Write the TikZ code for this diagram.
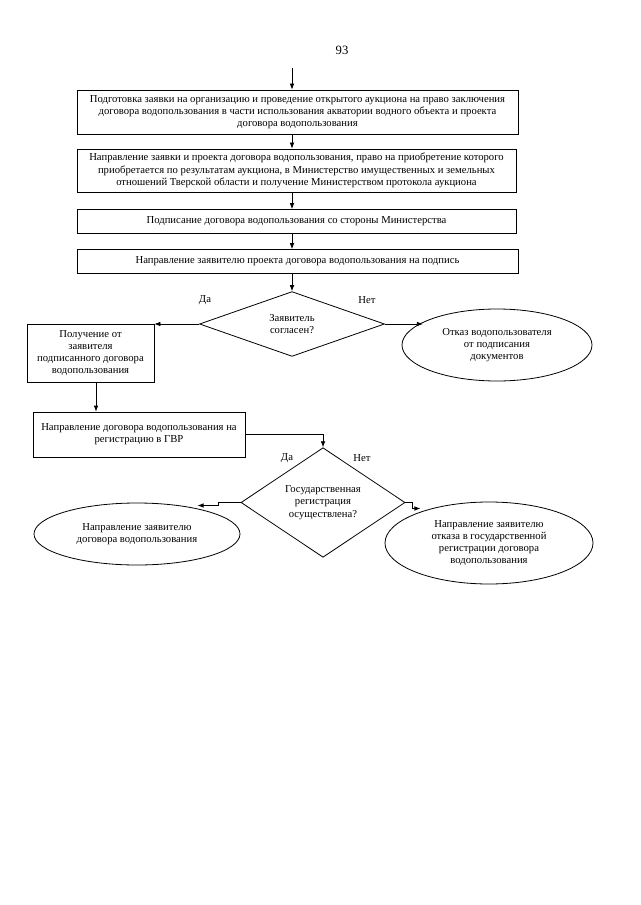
\documentclass[tikz,border=0pt]{standalone}
\usepackage{fontspec}
\setmainfont{Liberation Serif}
\usetikzlibrary{shapes.geometric,arrows.meta}
\begin{document}
\begin{tikzpicture}[x=0.75pt,y=-0.75pt, line width=0.6pt,
  txt/.style={font=\fontsize{8}{9.2}\selectfont, align=center},
  box/.style={draw, rectangle, inner sep=0pt, txt},
  oval/.style={draw, ellipse, inner sep=0pt, txt},
  dec/.style={draw, diamond, inner sep=0pt, txt},
  arr/.style={-{Latex[length=4.5pt,width=3.5pt]}},
  lbl/.style={font=\fontsize{8}{9.2}\selectfont, inner sep=0pt}]
\useasboundingbox (0,0) rectangle (640,905);
\fill[white] (0,0) rectangle (640,905);

\node[font=\fontsize{9.5}{11}\selectfont, inner sep=0pt] (pg) at (342,50) {93};

\coordinate (start) at (292,68);
\coordinate (ax) at (292,0);

\node[box, minimum width=330.75pt, minimum height=33pt] (b1) at (297.5,112) {Подготовка заявки на организацию и проведение открытого аукциона на право заключения\\договора водопользования в части использования акватории водного объекта и проекта\\договора водопользования};
\node[box, minimum width=329.25pt, minimum height=32.25pt] (b2) at (296.5,170.5) {Направление заявки и проекта договора водопользования, право на приобретение которого\\приобретается по результатам аукциона, в Министерство имущественных и земельных\\отношений Тверской области и получение Министерством протокола аукциона};
\node[box, minimum width=329.25pt, minimum height=18pt] (b3) at (296.5,221.5) {Подписание договора водопользования со стороны Министерства};
\node[box, minimum width=330.75pt, minimum height=18pt] (b4) at (297.5,261.5) {Направление заявителю проекта договора водопользования на подпись};

\node[dec, minimum width=138.75pt, minimum height=48pt] (d1) at (292,324) {Заявитель\\согласен?};

\node[box, minimum width=95.25pt, minimum height=43.5pt] (b5) at (90.5,353) {Получение от\\заявителя\\подписанного договора\\водопользования};
\node[oval, minimum width=142.5pt, minimum height=54pt] (o1) at (497,345) {Отказ водопользователя\\от подписания\\документов};

\node[box, minimum width=159pt, minimum height=33.75pt] (b6) at (139,434.5) {Направление договора водопользования на\\регистрацию в ГВР};

\node[dec, minimum width=123pt, minimum height=63.75pt] (d2) at (323,502.5) {Государственная\\регистрация\\осуществлена?};

\node[oval, minimum width=154.5pt, minimum height=46.5pt] (o3) at (137,534) {Направление заявителю\\договора водопользования};
\node[oval, minimum width=156pt, minimum height=61.5pt] (o2) at (489,543) {Направление заявителю\\отказа в государственной\\регистрации договора\\водопользования};

\node[lbl] (da1) at (205,300) {Да};
\node[lbl] (net1) at (367,300) {Нет};
\node[lbl] (da2) at (287,458) {Да};
\node[lbl] (net2) at (362,458) {Нет};

\draw[arr] (start) -- (b1.north -| start);
\draw[arr] (b1.south -| ax) -- (b2.north -| ax);
\draw[arr] (b2.south -| ax) -- (b3.north -| ax);
\draw[arr] (b3.south -| ax) -- (b4.north -| ax);
\draw[arr] (b4.south -| d1.north) -- (d1.north);
\draw[arr] (d1.west) -- (d1.west -| b5.east);
\draw[arr] (d1.east) -- ++(38,0);
\draw[arr] (b5.south -| 96,0) -- (b6.north -| 96,0);
\draw[arr] (b6.east) -| (d2.north);
\draw[arr] (d2.west) -- ++(-22,0) -- ++(0,3) -- ++(-21,0);
\draw[arr] (d2.east) -- ++(7,0) -- ++(0,6) -- ++(8,0);
\end{tikzpicture}
\end{document}
